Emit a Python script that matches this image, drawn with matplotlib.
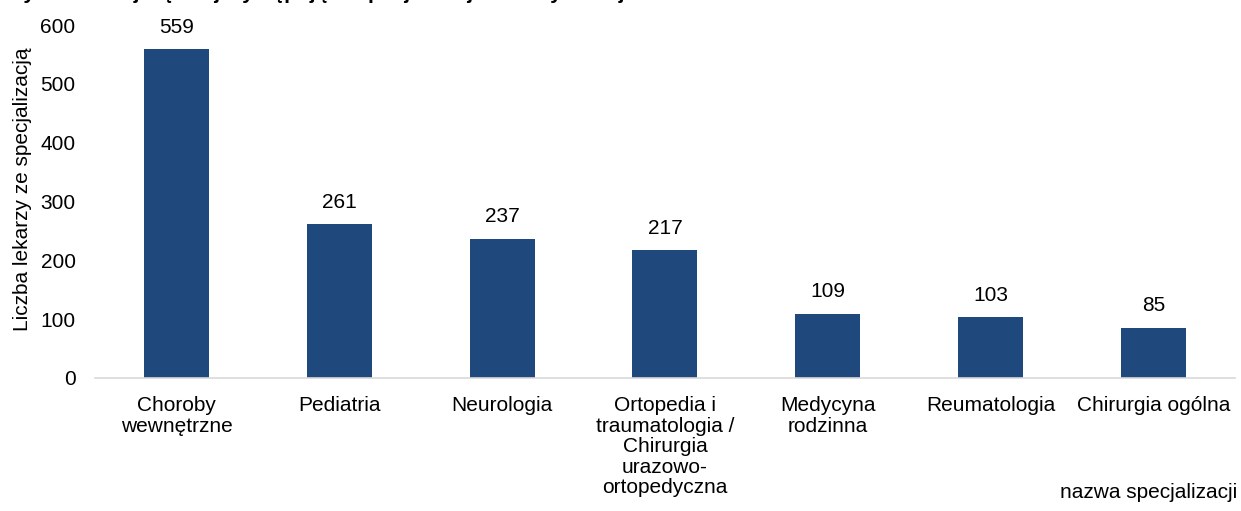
import matplotlib.pyplot as plt

plt.rcParams['font.family'] = ['Liberation Sans', 'DejaVu Sans']

# data
categories = ["Choroby\nwewnętrzne", "Pediatria", "Neurologia",
              "Ortopedia i\ntraumatologia /\nChirurgia\nurazowo-\nortopedyczna",
              "Medycyna\nrodzinna", "Reumatologia", "Chirurgia ogólna"]
values = [559, 261, 237, 217, 109, 103, 85]
yticks = [0, 100, 200, 300, 400, 500, 600]

BAR_COLOR = '#1F497D'
FS = 15

fig = plt.figure(figsize=(12.41, 5.11), dpi=100)
ax = fig.add_axes([0.0766, 0.2603, 0.9184, 0.6907])

x = range(len(categories))
ax.bar(x, values, width=0.4, color=BAR_COLOR)
for xi, v in zip(x, values):
    ax.annotate(str(v), (xi, v), xytext=(0, 9), textcoords='offset points',
                ha='center', va='bottom', fontsize=FS)

ax.set_xlim(-0.5, len(categories) - 0.5)
ax.set_ylim(0, 600)
ax.set_yticks(yticks)
ax.set_xticks(list(x))
ax.set_xticklabels(categories, fontsize=FS, linespacing=1.1)
ax.tick_params(axis='y', length=0, labelsize=FS, pad=14)
ax.tick_params(axis='x', length=0, pad=13)

for s in ['top', 'right', 'left']:
    ax.spines[s].set_visible(False)
ax.spines['bottom'].set_color('#D9D9D9')
ax.spines['bottom'].set_linewidth(1.2)

fig.text(0.018, 0.63, "Liczba lekarzy ze specjalizacją", rotation=90,
         ha='center', va='center', fontsize=FS)
fig.text(0.997, 0.037, "nazwa specjalizacji", ha='right', va='center', fontsize=FS)

# title, clipped at the top edge as in the source
fig.text(0.003, 1.012, "Wykres 5. Najczęściej występujące specjalizacje lekarzy w województwie w 2023 r.",
         ha='left', va='center', fontsize=15, fontweight='bold')

fig.savefig("out.png", dpi=100)
